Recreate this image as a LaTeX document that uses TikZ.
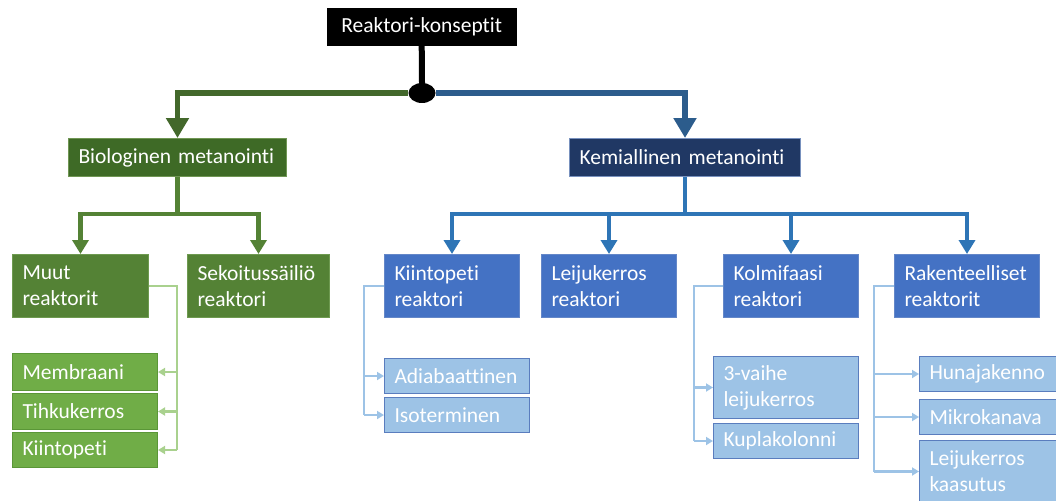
\documentclass[tikz,border=0pt]{standalone}
\usepackage{fontspec}
\setmainfont[Ligatures={NoCommon,NoRare,NoContextual}]{Carlito}
\usetikzlibrary{arrows.meta,shapes.geometric}
\definecolor{bioDark}{RGB}{62,106,38}
\definecolor{bioDarkB}{RGB}{112,150,84}
\definecolor{kemDark}{RGB}{32,56,100}
\definecolor{kemDarkB}{RGB}{120,145,190}
\definecolor{gMid}{RGB}{84,130,53}
\definecolor{gMidB}{RGB}{110,154,80}
\definecolor{bMid}{RGB}{68,114,196}
\definecolor{bMidB}{RGB}{100,135,200}
\definecolor{gLight}{RGB}{112,173,71}
\definecolor{gLightB}{RGB}{90,150,55}
\definecolor{bLight}{RGB}{157,195,230}
\definecolor{bLightB}{RGB}{90,125,190}
\definecolor{lineG1}{RGB}{67,104,43}
\definecolor{lineB1}{RGB}{44,92,140}
\definecolor{lineG2}{RGB}{84,130,53}
\definecolor{lineB2}{RGB}{46,117,182}
\definecolor{lineG3}{RGB}{169,209,142}
\definecolor{lineB3}{RGB}{157,195,230}
\begin{document}
\begin{tikzpicture}[x=1pt,y=-1pt,
  every node/.style={font=\fontsize{21.5}{26}\selectfont, text=white},
  box/.style={anchor=north west, line width=1pt, inner xsep=10pt, inner ysep=0pt, align=left},
  topbox/.style={anchor=north west, fill=black, draw=black, inner sep=0pt, align=center},
  l1/.style={line width=5.5pt, -{Triangle[width=22pt,length=20pt]}},
  l2/.style={line width=4.5pt, -{Triangle[width=16pt,length=14pt]}},
  l3/.style={line width=2.8pt, -{Triangle[width=8pt,length=7pt]}},
  plain2/.style={line width=4.5pt},
  plain3/.style={line width=2.8pt}
]
\useasboundingbox (0,0) rectangle (1056,500);
\clip (0,0) rectangle (1056,500);

% top
\node[topbox, minimum width=189pt, minimum height=37pt] (top) at (327,8) {Reaktori-konseptit};
\node[ellipse, fill=black, minimum width=27pt, minimum height=20pt, inner sep=0pt] (hub) at (422,93) {};

% level 1
\node[box, fill=bioDark, draw=bioDarkB, minimum width=218pt, minimum height=38pt, text width=198pt] (bio) at (68,138) {Biologinen metanointi};
\node[box, fill=kemDark, draw=kemDarkB, minimum width=231pt, minimum height=38pt, text width=211pt] (kem) at (569,138) {Kemiallinen metanointi};

% level 2
\node[box, fill=gMid, draw=gMidB, minimum width=136pt, minimum height=63pt, text width=116pt] (muut) at (12,254) {Muut\\reaktorit};
\node[box, fill=gMid, draw=gMidB, minimum width=142pt, minimum height=63pt, text width=122pt] (seko) at (187,254) {Sekoitussäiliö\\reaktori};
\node[box, fill=bMid, draw=bMidB, minimum width=135pt, minimum height=63pt, text width=115pt] (kiin) at (384,254) {Kiintopeti\\reaktori};
\node[box, fill=bMid, draw=bMidB, minimum width=135pt, minimum height=63pt, text width=115pt] (leiju) at (541,254) {Leijukerros\\reaktori};
\node[box, fill=bMid, draw=bMidB, minimum width=135pt, minimum height=63pt, text width=115pt] (kolm) at (723,254) {Kolmifaasi\\reaktori};
\node[box, fill=bMid, draw=bMidB, minimum width=145pt, minimum height=63pt, text width=125pt] (rak) at (894,254) {Rakenteelliset\\reaktorit};

% level 3 green
\node[box, fill=gLight, draw=gLightB, minimum width=145pt, minimum height=37pt, text width=125pt] (memb) at (12,353) {Membraani};
\node[box, fill=gLight, draw=gLightB, minimum width=145pt, minimum height=36pt, text width=125pt] (tihk) at (12,393) {Tihkukerros};
\node[box, fill=gLight, draw=gLightB, minimum width=145pt, minimum height=35pt, text width=125pt] (kiig) at (12,432) {Kiintopeti};

% level 3 blue
\node[box, fill=bLight, draw=bLightB, minimum width=145pt, minimum height=35pt, text width=125pt] (adia) at (384,358) {Adiabaattinen};
\node[box, fill=bLight, draw=bLightB, minimum width=145pt, minimum height=35pt, text width=125pt] (isot) at (384,397) {Isoterminen};
\node[box, fill=bLight, draw=bLightB, minimum width=145pt, minimum height=62pt, text width=125pt] (vaih) at (713,356) {3-vaihe\\leijukerros};
\node[box, fill=bLight, draw=bLightB, minimum width=145pt, minimum height=35pt, text width=125pt] (kupl) at (713,423) {Kuplakolonni};
\node[box, fill=bLight, draw=bLightB, minimum width=150pt, minimum height=35pt, text width=130pt] (huna) at (919,356) {Hunajakenno};
\node[box, fill=bLight, draw=bLightB, minimum width=150pt, minimum height=35pt, text width=130pt] (mikr) at (919,399) {Mikrokanava};
\node[box, fill=bLight, draw=bLightB, minimum width=150pt, minimum height=62pt, text width=130pt] (leik) at (919,440) {Leijukerros\\kaasutus};

% level 1 connectors
\draw[line width=6pt, black] (top.south) -- (hub.north);
\draw[l1, lineG1] (hub.west) -| (bio.north);
\draw[l1, lineB1] (hub.east) -| (kem.north);

% level 2 connectors
\coordinate (gj) at (bio.south |- 0,214);
\coordinate (bj) at (kem.south |- 0,214);
\draw[plain2, lineG2] (bio.south) -- (gj);
\draw[l2, lineG2] (gj) -| (muut.north);
\draw[l2, lineG2] (gj) -| (seko.north);
\draw[plain2, lineB2] (kem.south) -- (bj);
\draw[l2, lineB2] (bj) -| (kiin.north);
\draw[l2, lineB2] (bj) -| (leiju.north);
\draw[l2, lineB2] (bj) -| (kolm.north);
\draw[l2, lineB2] (bj) -| (rak.north);

% level 3 connectors green
\coordinate (gx) at (177,0);
\draw[plain3, lineG3] (muut.east) -| (gx |- kiig.east);
\draw[l3, lineG3] (gx |- memb.east) -- (memb.east);
\draw[l3, lineG3] (gx |- tihk.east) -- (tihk.east);
\draw[l3, lineG3] (gx |- kiig.east) -- (kiig.east);

% level 3 connectors blue
\coordinate (bx1) at (364,0);
\draw[plain3, lineB3] (kiin.west) -| (bx1 |- isot.west);
\draw[l3, lineB3] (bx1 |- adia.west) -- (adia.west);
\draw[l3, lineB3] (bx1 |- isot.west) -- (isot.west);

\coordinate (bx2) at (694,0);
\draw[plain3, lineB3] (kolm.west) -| (bx2 |- kupl.west);
\draw[l3, lineB3] (bx2 |- vaih.west) -- (vaih.west);
\draw[l3, lineB3] (bx2 |- kupl.west) -- (kupl.west);

\coordinate (bx3) at (874,0);
\draw[plain3, lineB3] (rak.west) -| (bx3 |- leik.west);
\draw[l3, lineB3] (bx3 |- huna.west) -- (huna.west);
\draw[l3, lineB3] (bx3 |- mikr.west) -- (mikr.west);
\draw[l3, lineB3] (bx3 |- leik.west) -- (leik.west);
\end{tikzpicture}
\end{document}
